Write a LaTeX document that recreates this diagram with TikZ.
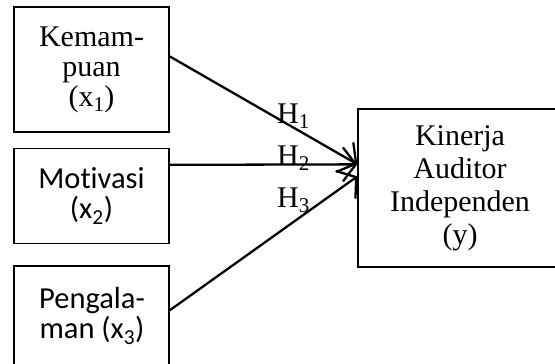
\documentclass[tikz,border=0pt]{standalone}
\usepackage{fontspec}
\setmainfont{Liberation Serif}
\newfontfamily\calfont[RawFeature={-liga}]{Carlito}
\usetikzlibrary{arrows.meta,calc}
\begin{document}
\begin{tikzpicture}[x=1pt,y=-1pt,
  box/.style={draw,line width=1.3pt,inner sep=0pt,align=center},
  conn/.style={line width=2.3pt,-{Straight Barb[length=13pt,width=34pt]}},
  hlab/.style={inner sep=0pt,anchor=base west,font=\fontsize{30}{30}\selectfont}]
\useasboundingbox (0,0) rectangle (555,364);
\clip (0,0) rectangle (555,364);
\node[box,minimum width=155pt,minimum height=125pt,font=\fontsize{30}{30}\selectfont] (b1) at (91.5,69.5) {Kemam-\\puan\\(x\textsubscript{1})};
\node[box,minimum width=155pt,minimum height=95pt,font=\calfont\fontsize{30.5}{30}\selectfont] (b2) at (91.5,196) {Motivasi\\(x\textsubscript{2})};
\node[box,minimum width=155pt,minimum height=110pt] (b3) at (91.5,321) {};
\node[inner sep=0pt,align=center,font=\calfont\fontsize{30.5}{30}\selectfont] (t3) at (92,316) {Pengala-\\man (x\textsubscript{3})};
\node[box,minimum width=204pt,minimum height=158pt,font=\fontsize{30}{33}\selectfont] (y) at (460,188) {Kinerja\\Auditor\\Independen\\(y)};
\coordinate (s1) at ($(b1.north east)+(0,50)$);
\coordinate (s2) at ($(b2.north east)+(0,17)$);
\coordinate (s3) at ($(b3.north east)+(0,45)$);
\coordinate (e1) at ($(y.north west)+(0,56)$);
\coordinate (e3) at ($(y.north west)+(0,68)$);
\draw[conn] (s1) -- (e1);
\draw[conn] (s2) -- (e1);
\draw[conn] (s3) -- (e3);
\node[hlab] (h1) at (277,123) {H\textsubscript{1}};
\node[hlab] (h2) at (277,165) {H\textsubscript{2}};
\node[hlab] (h3) at (277,207) {H\textsubscript{3}};
\end{tikzpicture}
\end{document}
